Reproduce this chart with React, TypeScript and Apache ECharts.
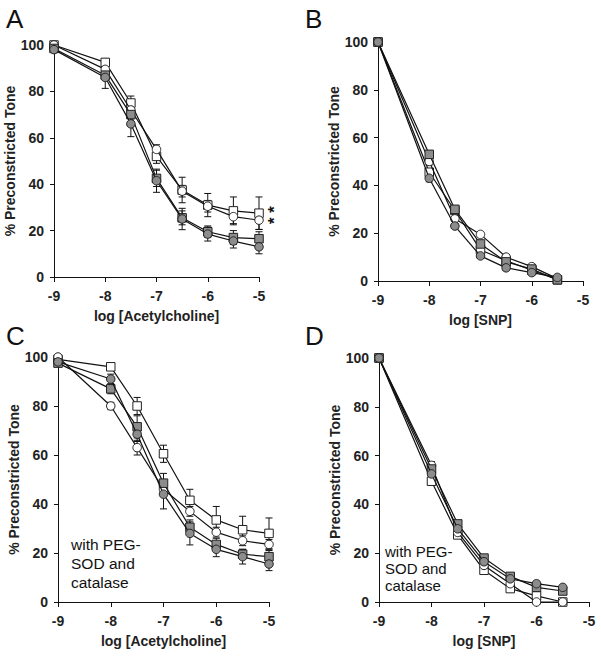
import React, { useEffect, useRef } from "react";
import * as echarts from "echarts";

const xAch = [-9, -8, -7.5, -7, -6.5, -6, -5.5, -5];
const xSnp = [-9, -8, -7.5, -7, -6.5, -6, -5.5];

// Panel A
const aOpenSq = [100, 92.5, 75, 52, 37.5, 31, 28.5, 27.5];
const aOpenCi = [100, 89.5, 72, 55, 37, 30.5, 26, 24.5];
const aGraySq = [98.5, 87, 70, 42.5, 25.5, 19.5, 17, 16.5];
const aGrayCi = [98, 86, 66, 41.5, 25, 18.5, 15.5, 13];
const aOpenSqErr = [0, 1.5, 3, 3, 5.5, 5, 6, 7];
const aOpenCiErr = [0, 1.5, 2, 2, 2.5, 2.5, 3, 4];
const aGraySqErr = [0, 2, 3, 3.5, 3, 2.5, 3, 3];
const aGrayCiErr = [0, 4.7, 5.5, 5, 4.6, 3, 3, 3];

// Panel B
const bOpenSq = [100, 45.5, 29.5, 13, 8.5, 4.5, 0.5];
const bOpenCi = [100, 50, 26, 19.5, 10, 6, 1];
const bGraySq = [100, 53, 30, 15.5, 8, 5, 0.5];
const bGrayCi = [100, 43, 23, 10.5, 5.5, 3.5, 1.5];
const bErr = [0, 1.5, 1, 1, 1, 1, 0.5];

// Panel C
const cOpenSq = [99, 96, 80, 60.5, 41.5, 33.5, 29.5, 28];
const cOpenCi = [100, 80, 63, 46, 37, 28.5, 25, 23.5];
const cGraySq = [97.5, 87, 71.5, 48.5, 30.5, 23.5, 19.5, 18.5];
const cGrayCi = [98, 91, 68.5, 44, 28, 21.5, 18.5, 15.5];
const cOpenSqErr = [0, 1.5, 3.5, 3.5, 4.5, 5.5, 5.5, 6.3];
const cOpenCiErr = [0, 1.5, 3, 2, 2, 2, 2, 2];
const cGraySqErr = [0, 2, 4.5, 4, 3, 2.5, 2, 2.5];
const cGrayCiErr = [0, 2, 3, 6, 4.7, 3, 3, 2.7];

// Panel D
const dOpenSq = [100, 49.5, 27.5, 13, 5.5, 2.5, 0];
const dOpenCi = [100, 56, 28.5, 15, 7.5, 0, 0];
const dGraySq = [100, 54.5, 32, 18, 10.5, 6, 4.5];
const dGrayCi = [100, 52.5, 30, 16.5, 9.5, 7.5, 6];
const dErr = [0, 1.5, 1, 1, 1, 1, 0.5];

const yTicks = [0, 20, 40, 60, 80, 100];
const xTicks = [-9, -8, -7, -6, -5];
const panelLetters = ["A", "B", "C", "D"];
const xTitles = ["log [Acetylcholine]", "log [SNP]", "log [Acetylcholine]", "log [SNP]"];
const yTitle = "% Preconstricted Tone";
const noteText = "with PEG-\nSOD and\ncatalase";
const starText = "* *";

const FONT = "'Liberation Sans', Arial, Helvetica, sans-serif";
const GRAY = "#8c8c8c";

export default function App() {
  const ref = useRef<HTMLDivElement>(null);
  useEffect(() => {
    if (!ref.current) return;
    const chart = echarts.init(ref.current, undefined, { renderer: "svg" });

    const grids = [
      { left: 54, top: 45, width: 205, height: 232 },
      { left: 378, top: 42, width: 205, height: 239 },
      { left: 58, top: 357, width: 211, height: 245 },
      { left: 379, top: 358, width: 210, height: 244 },
    ];

    const panels = [
      { x: xAch, s: [[aOpenSq, aOpenSqErr], [aOpenCi, aOpenCiErr], [aGraySq, aGraySqErr], [aGrayCi, aGrayCiErr]] },
      { x: xSnp, s: [[bOpenSq, bErr], [bOpenCi, bErr], [bGraySq, bErr], [bGrayCi, bErr]] },
      { x: xAch, s: [[cOpenSq, cOpenSqErr], [cOpenCi, cOpenCiErr], [cGraySq, cGraySqErr], [cGrayCi, cGrayCiErr]] },
      { x: xSnp, s: [[dOpenSq, dErr], [dOpenCi, dErr], [dGraySq, dErr], [dGrayCi, dErr]] },
    ];
    const styles = [
      { symbol: "rect", fill: "#ffffff" },
      { symbol: "circle", fill: "#ffffff" },
      { symbol: "rect", fill: GRAY },
      { symbol: "circle", fill: GRAY },
    ];

    const series: any[] = [];
    panels.forEach((p, pi) => {
      p.s.forEach(([vals, errs], si) => {
        const st = styles[si];
        series.push({
          type: "custom",
          xAxisIndex: pi,
          yAxisIndex: pi,
          z: 1,
          clip: false,
          data: p.x.map((x, i) => [x, vals[i], errs[i]]),
          encode: { x: 0, y: 1 },
          renderItem: (params: any, api: any) => {
            const x = api.value(0);
            const y = api.value(1);
            const e = api.value(2);
            if (!e) return null;
            const t = api.coord([x, y + e]);
            const b = api.coord([x, y - e]);
            const s = { stroke: "#111", lineWidth: 1 };
            return {
              type: "group",
              children: [
                { type: "line", shape: { x1: t[0], y1: t[1], x2: b[0], y2: b[1] }, style: s },
                { type: "line", shape: { x1: t[0] - 3.5, y1: t[1], x2: t[0] + 3.5, y2: t[1] }, style: s },
                { type: "line", shape: { x1: b[0] - 3.5, y1: b[1], x2: b[0] + 3.5, y2: b[1] }, style: s },
              ],
            };
          },
        });
        series.push({
          type: "line",
          xAxisIndex: pi,
          yAxisIndex: pi,
          z: 2 + si,
          clip: false,
          data: p.x.map((x, i) => [x, vals[i]]),
          symbol: st.symbol,
          symbolSize: 8.5,
          showAllSymbol: true,
          lineStyle: { color: "#111", width: 1.2 },
          itemStyle: { color: st.fill, borderColor: "#222", borderWidth: 1, opacity: 1 },
          emphasis: { disabled: true },
        });
      });
    });

    const xAxis = grids.map((_, i) => ({
      type: "value",
      gridIndex: i,
      min: -9,
      max: -5,
      interval: 1,
      name: xTitles[i],
      nameLocation: "middle",
      nameGap: 32,
      nameTextStyle: { fontFamily: FONT, fontSize: 14, fontWeight: "bold", color: "#222" },
      axisLine: { onZero: false, lineStyle: { color: "#111", width: 1 } },
      axisTick: { show: true, length: 5, lineStyle: { color: "#111" } },
      axisLabel: {
        fontFamily: FONT, fontSize: 14, fontWeight: "bold", color: "#222", margin: 12,
        formatter: (v: number) => (xTicks.includes(v) ? String(v) : ""),
      },
      splitLine: { show: false },
    }));
    const yAxis = grids.map((_, i) => ({
      type: "value",
      gridIndex: i,
      min: 0,
      max: 100,
      interval: 20,
      name: yTitle,
      nameLocation: "middle",
      nameRotate: 90,
      nameGap: 36,
      nameTextStyle: { fontFamily: FONT, fontSize: 14, fontWeight: "bold", color: "#222" },
      axisLine: { show: true, lineStyle: { color: "#111", width: 1 } },
      axisTick: { show: true, length: 4, lineStyle: { color: "#111" } },
      axisLabel: {
        fontFamily: FONT, fontSize: 14, fontWeight: "bold", color: "#222", margin: 10,
        formatter: (v: number) => (yTicks.includes(v) ? String(v) : ""),
      },
      splitLine: { show: false },
    }));

    const letterPos = [[6, 6], [305, 6], [6, 323], [305, 323]];
    const graphic: any[] = panelLetters.map((L, i) => ({
      type: "text",
      left: letterPos[i][0],
      top: letterPos[i][1],
      style: { text: L, fontFamily: FONT, fontSize: 26, fill: "#111" },
    }));
    graphic.push(
      {
        type: "group",
        x: 271,
        y: 215,
        rotation: Math.PI / 2,
        children: [
          {
            type: "text",
            x: 0,
            y: 3,
            style: {
              text: starText, fontFamily: FONT, fontSize: 17, fontWeight: "bold", fill: "#111",
              align: "center", verticalAlign: "middle", textAlign: "center", textVerticalAlign: "middle",
            },
          },
        ],
      },
      { type: "text", left: 71, top: 535, style: { text: noteText, fontFamily: FONT, fontSize: 15.5, lineHeight: 19, fill: "#111" } },
      { type: "text", left: 385, top: 543, style: { text: noteText, fontFamily: FONT, fontSize: 15, lineHeight: 17, fill: "#111" } }
    );

    chart.setOption({
      animation: false,
      backgroundColor: "#ffffff",
      grid: grids,
      xAxis,
      yAxis,
      series,
      graphic,
    });
    return () => chart.dispose();
  }, []);
  return (
    <div
      ref={ref}
      style={{ position: "absolute", left: 0, top: 0, width: 601, height: 657 }}
    />
  );
}
